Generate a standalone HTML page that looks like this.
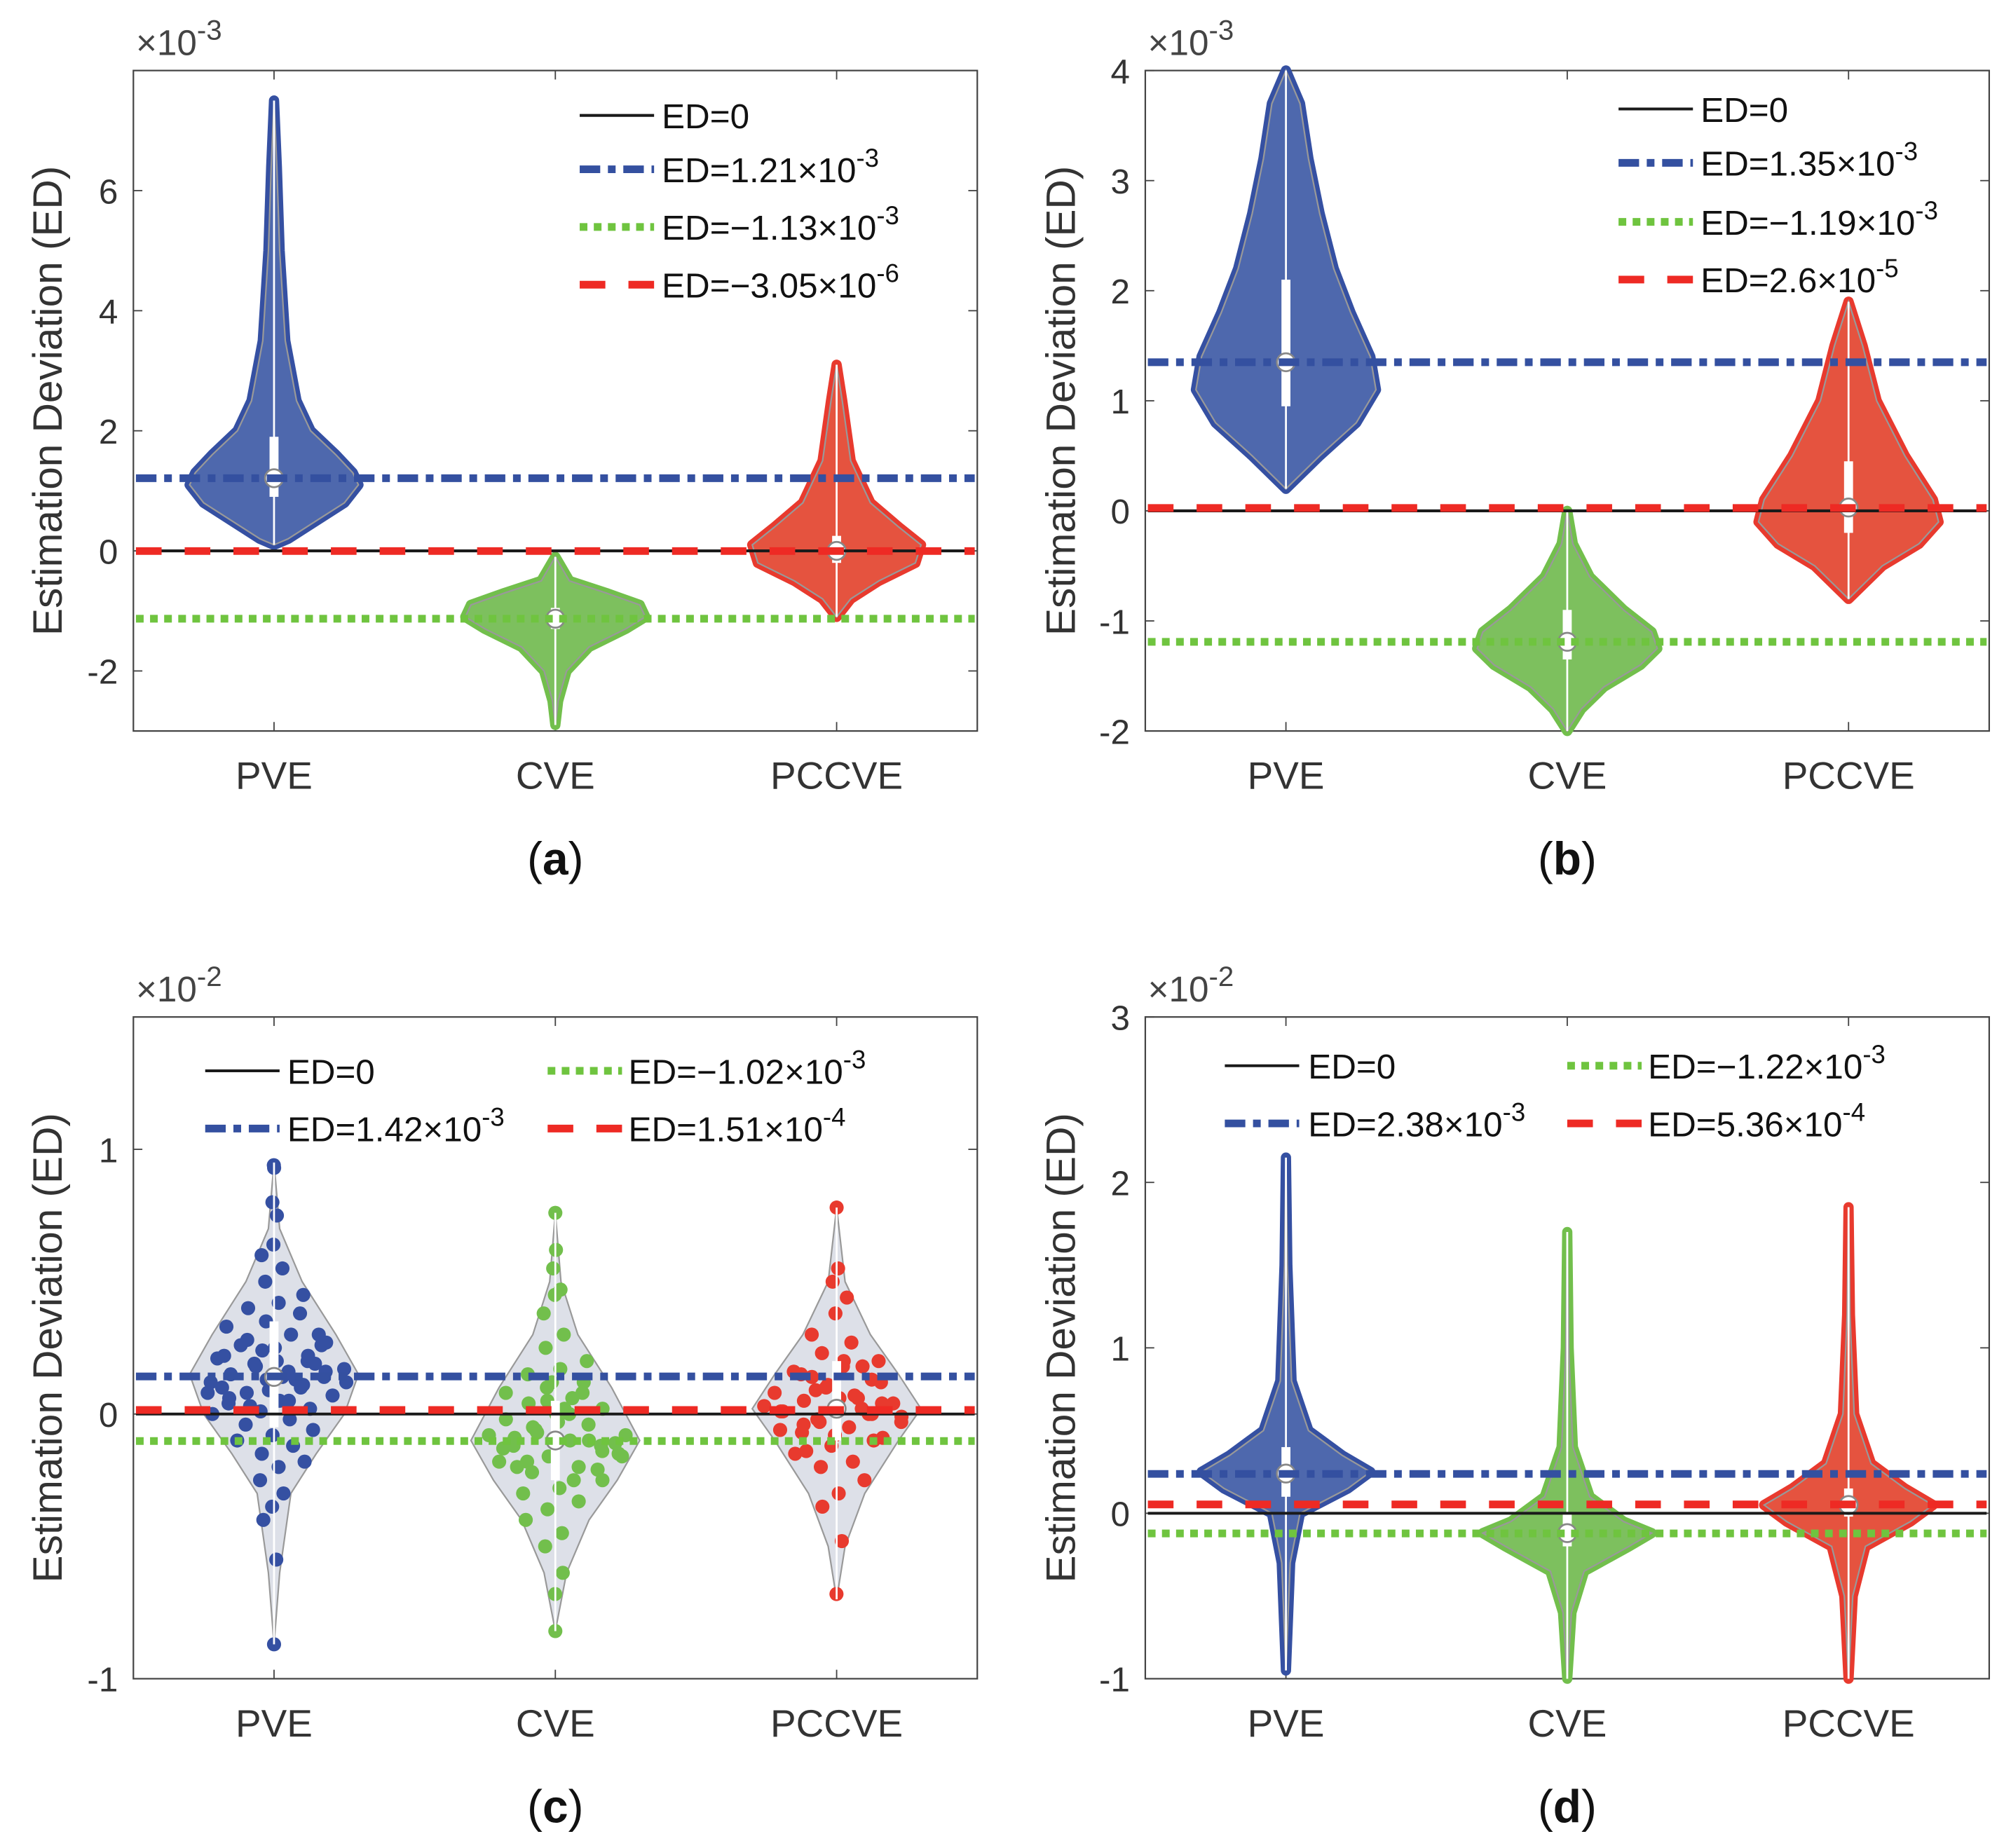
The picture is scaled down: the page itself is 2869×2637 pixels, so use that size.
<!DOCTYPE html>
<html><head><meta charset="utf-8"><style>
html,body{margin:0;padding:0;background:#fff}
svg{display:block}
text{font-family:"Liberation Sans",Arial,sans-serif}
</style></head><body>
<svg id="fig" width="2869" height="2637" viewBox="0 0 1568 1441" preserveAspectRatio="none" xmlns="http://www.w3.org/2000/svg"></svg>
<script>
const categories = ["PVE","CVE","PCCVE"];
const yMinA=-3, yMaxA=8, ticksA=[-2,0,2,4,6];
const yMinB=-2, yMaxB=4, ticksB=[-2,-1,0,1,2,3,4];
const yMinC=-1, yMaxC=1.5, ticksC=[-1,0,1];
const yMinD=-1, yMaxD=3, ticksD=[-1,0,1,2,3];
const violinA_PVE=[[7.5,0],[6.4,0.01],[5,0.02],[3.5,0.04],[2.5,0.08],[2,0.13],[1.6,0.22],[1.3,0.28],[1.1,0.3],[0.8,0.25],[0.5,0.15],[0.2,0.05],[0.1,0]];
const violinA_CVE=[[-0.1,0],[-0.5,0.05],[-0.7,0.18],[-0.9,0.3],[-1.1,0.32],[-1.3,0.25],[-1.6,0.12],[-2,0.04],[-2.5,0.01],[-2.9,0]];
const violinA_PCCVE=[[3.1,0],[2.5,0.02],[1.5,0.05],[0.8,0.12],[0.4,0.22],[0.1,0.3],[-0.2,0.28],[-0.5,0.15],[-0.8,0.05],[-1.1,0]];
const violinB_PVE=[[4,0],[3.7,0.05],[3.2,0.08],[2.7,0.12],[2.2,0.17],[1.8,0.23],[1.4,0.3],[1.1,0.32],[0.8,0.25],[0.5,0.12],[0.2,0]];
const violinB_CVE=[[0,0],[-0.3,0.02],[-0.6,0.08],[-0.9,0.2],[-1.1,0.3],[-1.25,0.32],[-1.4,0.26],[-1.6,0.13],[-1.8,0.05],[-2,0]];
const violinB_PCCVE=[[1.9,0],[1.5,0.05],[1.0,0.1],[0.5,0.2],[0.1,0.3],[-0.1,0.32],[-0.3,0.25],[-0.5,0.12],[-0.8,0]];
const violinC_PVE=[[0.95,0],[0.7,0.02],[0.5,0.1],[0.3,0.22],[0.15,0.3],[0,0.25],[-0.15,0.15],[-0.3,0.06],[-0.6,0.02],[-0.87,0]];
const violinC_CVE=[[0.76,0],[0.5,0.02],[0.3,0.08],[0.1,0.2],[-0.1,0.3],[-0.25,0.22],[-0.4,0.12],[-0.6,0.04],[-0.82,0]];
const violinC_PCCVE=[[0.78,0],[0.5,0.03],[0.3,0.12],[0.15,0.22],[0.02,0.3],[-0.1,0.22],[-0.3,0.1],[-0.5,0.03],[-0.7,0]];
const violinD_PVE=[[2.15,0],[1.5,0.005],[0.8,0.02],[0.5,0.08],[0.35,0.2],[0.25,0.3],[0.15,0.22],[0,0.05],[-0.3,0.015],[-0.95,0]];
const violinD_CVE=[[1.7,0],[1,0.005],[0.4,0.02],[0.1,0.08],[-0.05,0.2],[-0.12,0.3],[-0.2,0.22],[-0.35,0.06],[-0.6,0.015],[-1,0]];
const violinD_PCCVE=[[1.85,0],[1.2,0.005],[0.6,0.02],[0.3,0.08],[0.15,0.2],[0.05,0.3],[-0.05,0.22],[-0.2,0.06],[-0.5,0.015],[-1,0]];
const boxA=[[0.9,1.9,1.21],[-1.3,-0.95,-1.13],[-0.2,0.25,0]];
const boxB=[[0.95,2.1,1.35],[-1.35,-0.9,-1.19],[-0.2,0.45,0.03]];
const boxC=[[-0.05,0.35,0.14],[-0.25,0.05,-0.1],[-0.1,0.2,0.02]];
const boxD=[[0.1,0.4,0.24],[-0.2,0,-0.12],[-0.02,0.15,0.05]];
const refA=[0,1.21,-1.13,-0.003];
const refB=[0,1.35,-1.19,0.026];
const refC=[0,0.142,-0.102,0.0151];
const refD=[0,0.238,-0.122,0.0536];
const ptsC_PVE=[0.94,0.93,0.8,0.75,0.64,0.6,0.55,0.5,0.45,0.42,0.4,0.38,0.35,0.33,0.3,0.28,0.26,0.25,0.22,0.2,0.19,0.17,0.16,0.15,0.14,0.13,0.12,0.1,0.08,0.07,0.05,0.04,0.02,0.01,0,-0.02,-0.04,-0.06,-0.08,-0.1,-0.12,-0.15,-0.18,-0.2,-0.25,-0.3,-0.35,-0.4,-0.55,-0.87,0.3,0.2,0.1,0.22,0.18,0.12,0.05,0.26,0.16,0.09,0.21,0.11,0.03,0.27,0.14,0.06,0.19,0.24,0.08,0.13];
const ptsC_CVE=[0.76,0.62,0.55,0.47,0.45,0.38,0.3,0.25,0.2,0.17,0.15,0.12,0.1,0.08,0.06,0.04,0.02,0,-0.02,-0.04,-0.06,-0.08,-0.1,-0.12,-0.14,-0.16,-0.18,-0.2,-0.22,-0.25,-0.28,-0.3,-0.33,-0.36,-0.4,-0.45,-0.5,-0.6,-0.68,-0.82,-0.1,-0.05,-0.15,0.02,-0.2,-0.12,0.05,-0.08,-0.25,-0.18,-0.11,-0.03,-0.13,0.08,-0.07,-0.16,0.0,-0.09,-0.21,0.12];
const ptsC_PCCVE=[0.78,0.55,0.5,0.44,0.38,0.3,0.27,0.23,0.2,0.18,0.15,0.13,0.1,0.08,0.06,0.05,0.04,0.02,0.01,0,-0.02,-0.03,-0.05,-0.07,-0.1,-0.12,-0.15,-0.18,-0.2,-0.25,-0.3,-0.35,-0.48,-0.68,0.03,0.07,-0.04,0.12,-0.08,0.16,0.0,0.09,-0.01,0.2,-0.14,0.04,0.11,-0.06,0.02,0.14,-0.09,0.06,0.01,0.18,-0.03];

const svg=document.getElementById('fig');
const NS='http://www.w3.org/2000/svg';
function mk(tag,attrs,parent){const e=document.createElementNS(NS,tag);for(const k in attrs)e.setAttribute(k,attrs[k]);(parent||svg).appendChild(e);return e;}
const fillCol=["#4e68ad","#7dc05e","#e5533f"];
const dotCol=["#3550a2","#72bf4c","#e83a2e"];
const lineCol=["#1a1a1a","#3450a0","#6fc43f","#ee2a24"];

const panels=[
 {id:'a',L:104,R:762,T:55,B:570,ymin:yMinA,ymax:yMaxA,ticks:ticksA,exp:'-3',v:[violinA_PVE,violinA_CVE,violinA_PCCVE],box:boxA,ref:refA,dense:true,
  leg:{cols:[[452,516]],rows:[[0,0,90,'ED=0',''],[1,0,132,'ED=1.21×10','-3'],[2,0,177,'ED=−1.13×10','-3'],[3,0,222,'ED=−3.05×10','-6']]}},
 {id:'b',L:893,R:1551,T:55,B:570,ymin:yMinB,ymax:yMaxB,ticks:ticksB,exp:'-3',v:[violinB_PVE,violinB_CVE,violinB_PCCVE],box:boxB,ref:refB,dense:true,
  leg:{cols:[[1262,1326]],rows:[[0,0,85,'ED=0',''],[1,0,127,'ED=1.35×10','-3'],[2,0,173,'ED=−1.19×10','-3'],[3,0,218,'ED=2.6×10','-5']]}},
 {id:'c',L:104,R:762,T:793,B:1309,ymin:yMinC,ymax:yMaxC,ticks:ticksC,exp:'-2',v:[violinC_PVE,violinC_CVE,violinC_PCCVE],box:boxC,ref:refC,dense:false,pts:[ptsC_PVE,ptsC_CVE,ptsC_PCCVE],
  leg:{cols:[[160,224],[427,490]],rows:[[0,0,835,'ED=0',''],[2,1,835,'ED=−1.02×10','-3'],[1,0,880,'ED=1.42×10','-3'],[3,1,880,'ED=1.51×10','-4']]}},
 {id:'d',L:893,R:1551,T:793,B:1309,ymin:yMinD,ymax:yMaxD,ticks:ticksD,exp:'-2',v:[violinD_PVE,violinD_CVE,violinD_PCCVE],box:boxD,ref:refD,dense:true,
  leg:{cols:[[955,1020],[1222,1285]],rows:[[0,0,831,'ED=0',''],[2,1,831,'ED=−1.22×10','-3'],[1,0,876,'ED=2.38×10','-3'],[3,1,876,'ED=5.36×10','-4']]}}
];
const dash=['none','16,6,6,6','6,5','20,18'];
const widths=[2.2,6,6,6];

panels.forEach(p=>{
 const g=mk('g',{});
 
 
 const ys=v=>p.B-(v-p.ymin)/(p.ymax-p.ymin)*(p.B-p.T);
 const xs=c=>p.L+(c-0.5)/3*(p.R-p.L);
 const unit=(p.R-p.L)/3;
 const fr=mk('rect',{x:p.L,y:p.T,width:p.R-p.L,height:p.B-p.T,fill:'none',stroke:'#444','stroke-width':1.2},g);
 
 
 p.ticks.forEach(t=>{
  const y=ys(t);
  mk('line',{x1:p.L,x2:p.L+7,y1:y,y2:y,stroke:'#444','stroke-width':1},g);
  mk('line',{x1:p.R,x2:p.R-7,y1:y,y2:y,stroke:'#444','stroke-width':1},g);
  const tx=mk('text',{x:p.L-12,y:y+10,'text-anchor':'end','font-size':27,fill:'#333'},g);
  tx.textContent=String(t);
  
  
 });
 const ex=mk('text',{x:p.L+2,y:p.T-12,'font-size':28,fill:'#444'},g);
 ex.innerHTML='×10<tspan dy="-12" font-size="22">'+p.exp+'</tspan>';
 
 
 const yt=mk('text',{x:0,y:0,'font-size':32,fill:'#333','text-anchor':'middle',transform:'translate(48,'+((p.T+p.B)/2)+') rotate(-90)'},g);
 yt.textContent='Estimation Deviation (ED)';
 
 
 if(p.L>800) yt.setAttribute('transform','translate(838,'+((p.T+p.B)/2)+') rotate(-90)');
 categories.forEach((c,i)=>{
  const x=xs(i+1);
  mk('line',{x1:x,x2:x,y1:p.B,y2:p.B-7,stroke:'#444','stroke-width':1},g);
  mk('line',{x1:x,x2:x,y1:p.T,y2:p.T+7,stroke:'#444','stroke-width':1},g);
  const t=mk('text',{x:x,y:p.B+45,'text-anchor':'middle','font-size':30,fill:'#333'},g);
  t.textContent=c;
  
  
 });
 p.v.forEach((prof,i)=>{
  const cx=xs(i+1);
  let right=prof.map(q=>(cx+q[1]*unit)+','+ys(q[0]));
  let left=prof.slice().reverse().map(q=>(cx-q[1]*unit)+','+ys(q[0]));
  const pts=right.concat(left).join(' ');
  if(p.dense){
   const o=mk('polygon',{points:pts,fill:dotCol[i],stroke:dotCol[i],'stroke-width':8,'stroke-linejoin':'round'},g);
   
   
   const v=mk('polygon',{points:pts,fill:fillCol[i],stroke:'#999','stroke-width':1.2},g);
   
   
  } else {
   const v=mk('polygon',{points:pts,fill:'#d9dde6','fill-opacity':0.9,stroke:'#999','stroke-width':1.2},g);
   
   
   p.pts[i].forEach((val,k)=>{
    let hw=0;
    for(let j=0;j<prof.length-1;j++){const a=prof[j],b=prof[j+1];if(val<=a[0]&&val>=b[0]){const f=(a[0]-val)/(a[0]-b[0]||1);hw=a[1]+(b[1]-a[1])*f;break;}}
    const frac=((k*0.618034)%1)*2-1;
    const d=mk('circle',{cx:cx+frac*hw*unit*0.9,cy:ys(val),r:5.5,fill:dotCol[i]},g);
    
    
   });
  }
  const vmax=prof[0][0], vmin=prof[prof.length-1][0];
  mk('line',{x1:cx,x2:cx,y1:ys(vmax),y2:ys(vmin),stroke:'#fff','stroke-width':1.5},g);
  const b=p.box[i];
  mk('rect',{x:cx-3.5,y:ys(b[1]),width:7,height:ys(b[0])-ys(b[1]),fill:'#fff'},g);
  const m=mk('circle',{cx:cx,cy:ys(b[2]),r:7,fill:'#fff',stroke:'#888','stroke-width':1.5},g);
  
  
 });
 [0,3,1,2].forEach(k=>{
  const y=ys(p.ref[k]);
  const a={x1:p.L+2,x2:p.R-2,y1:y,y2:y,stroke:lineCol[k],'stroke-width':widths[k]};
  if(dash[k]!=='none')a['stroke-dasharray']=dash[k];
  const l=mk('line',a,g);
  
  
 });
 p.leg.rows.forEach(r=>{
  const [k,c,y,txt,sup]=r;
  const col=p.leg.cols[c];
  const a={x1:col[0],x2:col[0]+58,y1:y,y2:y,stroke:lineCol[k],'stroke-width':widths[k]};
  if(dash[k]!=='none')a['stroke-dasharray']=dash[k];
  mk('line',a,g);
  const t=mk('text',{x:col[1],y:y+10,'font-size':27,fill:'#111'},g);
  t.innerHTML=txt+(sup?'<tspan dy="-12" font-size="20">'+sup+'</tspan>':'');
  
  
 });
 const cap=mk('text',{x:(p.L+p.R)/2+0,y:p.B+112,'text-anchor':'middle','font-size':36,fill:'#111','font-family':'"Liberation Serif",serif'},g);
 cap.innerHTML='(<tspan font-weight="bold">'+p.id+'</tspan>)';
 
 
});
</script>
</body></html>
